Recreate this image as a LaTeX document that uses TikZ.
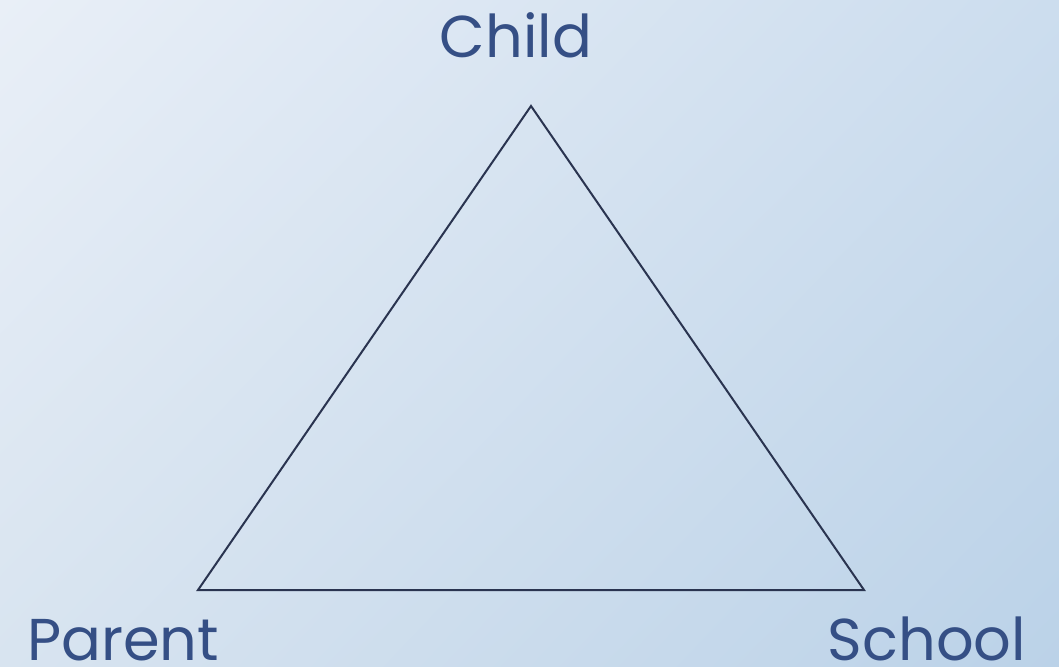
\documentclass[tikz,border=0pt]{standalone}
\usepackage{fontspec}
\usetikzlibrary{shadings}
\setmainfont{Poppins}
\definecolor{bgTL}{HTML}{E9EFF7}
\definecolor{bgTR}{HTML}{CCDDEE}
\definecolor{bgBL}{HTML}{D8E4F0}
\definecolor{bgBR}{HTML}{BBD2E8}
\definecolor{txt}{HTML}{354F85}
\definecolor{edge}{HTML}{2A3450}
\tikzset{
  lbl/.style={text=txt, font=\fontsize{59}{59}\selectfont, inner sep=0pt, anchor=base},
  side/.style={draw=edge, line width=2pt, line join=miter}
}
\begin{document}
\begin{tikzpicture}[x=1pt,y=-1pt]
\shade[upper left=bgTL, upper right=bgTR, lower left=bgBL, lower right=bgBR] (0,0) rectangle (1059,666);
\useasboundingbox (0,0) rectangle (1059,666);
\coordinate (top) at (531,106);
\coordinate (bl) at (198,590);
\coordinate (br) at (864,590);
\draw[side] (top) -- (bl) -- (br) -- cycle;
\node[lbl] (child) at (516,58) {Child};
\node[lbl] (parent) at (123,660) {Parent};
\node[lbl] (school) at (927,660) {School};
\end{tikzpicture}
\end{document}
